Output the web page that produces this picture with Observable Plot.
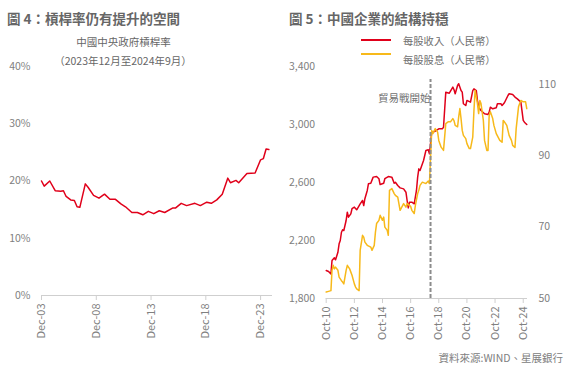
<!DOCTYPE html>
<html>
<head>
<meta charset="utf-8">
<script src="https://cdn.jsdelivr.net/npm/d3@7"></script>
<script src="https://cdn.jsdelivr.net/npm/@observablehq/plot@0.6"></script>
<style>
  html, body { margin: 0; padding: 0; background: #fff; }
  #root { position: relative; width: 580px; height: 374px; overflow: hidden; background: #fff;
          font-family: "Noto Sans CJK TC", "Noto Sans", sans-serif; }
  .abs { position: absolute; white-space: nowrap; }
  .title { font-size: 13.5px; font-weight: bold; color: #666; line-height: 16px; }
  .sub { font-size: 10.5px; color: #666; line-height: 14px; text-align: center; width: 220px; }
  .leg { font-size: 10.3px; color: #707070; line-height: 14px; }
  .sw { height: 2px; width: 30px; }
  .src { font-size: 10.5px; color: #808080; line-height: 14px; text-align: right; }
</style>
</head>
<body>
<div id="root">
  <div class="abs title" style="left:7px;top:10px">圖 4：槓桿率仍有提升的空間</div>
  <div class="abs title" style="left:289px;top:10px">圖 5：中國企業的結構持穩</div>
  <div class="abs sub" style="left:13.5px;top:34.5px">中國中央政府槓桿率</div>
  <div class="abs sub" style="left:13px;top:54px">（2023年12月至2024年9月）</div>
  <div class="abs sw" style="left:361px;top:39px;background:#e0001a"></div>
  <div class="abs sw" style="left:361px;top:52.5px;background:#f7b91a"></div>
  <div class="abs leg" style="left:403px;top:34.3px">每股收入（人民幣）</div>
  <div class="abs leg" style="left:403px;top:53.3px">每股股息（人民幣）</div>
  <div class="abs src" style="right:17px;top:351px">資料來源:WIND、星展銀行</div>
</div>
<script>
// ---- Chart 4: central government leverage (%) ----
const govDates = ["2003-12","2004-03","2004-09","2005-03","2005-09","2005-12","2006-03","2006-08","2006-12","2007-03","2007-06","2007-12","2008-03","2008-09","2009-03","2009-09","2010-03","2010-09","2011-03","2011-08","2012-03","2012-09","2013-03","2013-09","2014-03","2014-09","2015-03","2015-12","2016-03","2016-09","2017-03","2017-12","2018-06","2019-01","2019-06","2019-12","2020-06","2020-12","2021-03","2021-09","2021-12","2022-09","2023-06","2023-12","2024-03","2024-06","2024-09"];
const govLeverage = [20.0,19.1,20.0,18.3,18.2,18.3,17.3,16.7,16.6,15.5,15.4,19.5,18.9,17.5,17.0,17.7,16.8,16.8,16.0,15.5,14.5,14.5,14.1,14.7,14.3,14.8,14.5,15.3,15.3,16.1,15.7,16.1,15.7,16.3,16.1,16.7,17.7,20.5,19.7,20.1,19.7,21.3,21.4,23.7,23.9,25.6,25.5];
const govYTicks = [0, 10, 20, 30, 40];
const govXTicks = ["2003-12","2008-12","2013-12","2018-12","2023-12"];

// ---- Chart 5: revenue per share (left axis) and dividend per share (right axis) ----
const revDates = ["2010-10","2010-12","2011-02","2011-03","2011-05","2011-06","2011-08","2011-09","2011-10","2011-11","2011-12","2012-01","2012-03","2012-04","2012-05","2012-07","2012-08","2012-10","2012-12","2013-03","2013-05","2013-06","2013-07","2013-09","2013-10","2013-12","2014-02","2014-05","2014-07","2014-08","2014-11","2014-12","2015-03","2015-06","2015-08","2015-09","2015-11","2016-01","2016-04","2016-06","2016-07","2016-08","2016-09","2016-11","2017-01","2017-03","2017-04","2017-05","2017-06","2017-09","2017-11","2018-01","2018-02","2018-04","2018-07","2018-10","2019-01","2019-02","2019-04","2019-07","2019-10","2019-11","2019-12","2020-02","2020-03","2020-05","2020-06","2020-07","2020-09","2020-10","2021-01","2021-03","2021-04","2021-06","2021-07","2021-08","2021-10","2022-01","2022-04","2022-05","2022-06","2022-08","2022-11","2022-12","2023-03","2023-04","2023-06","2023-09","2023-10","2024-01","2024-03","2024-05","2024-08","2024-10","2024-11","2025-01"];
const revValues = [1993,1986,1970,2062,2081,2067,2119,2177,2200,2257,2274,2269,2338,2395,2361,2384,2419,2430,2412,2453,2476,2441,2488,2545,2591,2595,2637,2641,2626,2586,2595,2626,2641,2637,2595,2602,2579,2563,2556,2533,2476,2425,2464,2464,2453,2545,2637,2694,2683,2752,2821,2826,2798,2947,2954,2970,2970,2981,3223,3216,3258,3240,3212,3269,3281,3234,3223,3143,3131,3166,3154,3234,3246,3234,3166,3119,3097,3074,3069,3085,3119,3108,3115,3143,3143,3131,3150,3200,3212,3207,3189,3177,3154,3028,3016,3000];

const divDates = ["2010-10","2010-12","2011-02","2011-03","2011-04","2011-05","2011-06","2011-08","2011-09","2011-11","2011-12","2012-01","2012-03","2012-04","2012-06","2012-08","2012-10","2012-11","2012-12","2013-02","2013-03","2013-05","2013-06","2013-07","2013-09","2013-12","2014-01","2014-03","2014-04","2014-05","2014-07","2014-08","2014-10","2014-11","2014-12","2015-02","2015-03","2015-04","2015-06","2015-08","2015-09","2015-11","2015-12","2016-01","2016-04","2016-06","2016-07","2016-10","2016-11","2017-01","2017-02","2017-04","2017-05","2017-06","2017-08","2017-11","2018-01","2018-02","2018-04","2018-05","2018-07","2018-09","2018-10","2018-12","2019-02","2019-04","2019-06","2019-08","2019-10","2019-11","2019-12","2020-02","2020-03","2020-04","2020-05","2020-06","2020-07","2020-09","2020-10","2020-12","2021-01","2021-03","2021-04","2021-05","2021-06","2021-07","2021-08","2021-09","2021-10","2021-12","2022-01","2022-03","2022-04","2022-05","2022-06","2022-08","2022-09","2022-11","2023-02","2023-04","2023-05","2023-06","2023-08","2023-09","2023-10","2023-12","2024-01","2024-03","2024-04","2024-06","2024-07","2024-08","2024-10","2024-12","2025-01"];
const divValues = [51.8,52.0,52.2,57.9,59.3,58.3,58.8,57.9,56.0,55.0,54.6,54.1,57.9,59.3,58.3,56.5,54.1,53.2,52.7,52.2,63.5,67.7,67.2,65.8,64.9,64.4,63.5,64.9,68.6,71.0,71.9,73.3,71.9,72.8,70.0,69.1,67.7,80.3,80.8,79.4,78.9,78.4,76.6,74.7,76.6,75.6,76.6,75.8,74.7,73.8,76.1,79.4,80.3,81.7,82.6,82.2,82.9,82.2,97.1,96.2,97.6,96.6,94.3,92.4,91.5,99.0,99.5,99.5,100.4,99.8,98.5,98.1,100.9,103.2,100.4,97.1,95.7,94.8,93.4,92.0,92.0,95.2,102.7,108.3,106.5,104.6,101.8,105.5,104.6,99.9,94.3,91.5,91.5,101.3,102.3,100.4,98.5,96.2,94.3,93.8,99.9,99.5,98.5,97.1,95.7,94.3,92.9,92.3,97.6,103.7,104.6,105.5,105.1,105.1,103.2];

const leftTicks5 = [1800, 2200, 2600, 3000, 3400];
const rightTicks5 = [50, 70, 90, 110];
const xTicks5 = ["2010-10","2012-10","2014-10","2016-10","2018-10","2020-10","2022-10","2024-10"];
const tradeWarDate = "2018-03";
const tradeWarLabel = "貿易戰開始";

// ---- helpers ----
const parse = d3.utcParse("%Y-%m");
const fmtX = d3.utcFormat("%b-%y");
const RED = "#e0001a", YELLOW = "#f7b91a", AXIS = "#cfcfcf", TXT = "#808080";
const FONT = "'Noto Sans CJK TC', 'Noto Sans', sans-serif";

const govData = govDates.map((d, i) => ({date: parse(d), v: govLeverage[i]}));
const revData = revDates.map((d, i) => ({date: parse(d), v: revValues[i]}));
const divData = divDates.map((d, i) => ({date: parse(d), v: divValues[i]}));

// right axis (50–115) mapped onto left axis (1800–3400)
const R0 = 50, R1 = 115, L0 = 1800, L1 = 3400;
const toLeft = v => L0 + (v - R0) * (L1 - L0) / (R1 - R0);
const fromLeft = v => R0 + (v - L0) * (R1 - R0) / (L1 - L0);

const root = document.getElementById("root");
function place(svg, left) {
  svg.style.position = "absolute";
  svg.style.left = left + "px";
  svg.style.top = "0px";
  svg.style.overflow = "visible";
  root.appendChild(svg);
}

const chart4 = Plot.plot({
  width: 290, height: 374,
  marginTop: 66, marginBottom: 79, marginLeft: 41, marginRight: 18,
  style: {fontFamily: FONT, fontSize: "10.5px", color: TXT, background: "transparent", overflow: "visible"},
  x: {type: "utc", domain: [parse("2003-12"), parse("2025-01")]},
  y: {domain: [0, 40]},
  marks: [
    Plot.ruleY([0], {stroke: AXIS, strokeWidth: 1}),
    Plot.axisX({ticks: govXTicks.map(parse), tickFormat: fmtX, tickRotate: -90, tickSize: 5, tickPadding: 3,
                stroke: AXIS, fill: TXT, fontSize: 11, label: null}),
    Plot.axisY({ticks: govYTicks, tickFormat: d => d + "%", tickSize: 0, tickPadding: 11, fill: TXT, label: null}),
    Plot.lineY(govData, {x: "date", y: "v", stroke: RED, strokeWidth: 1.5})
  ]
});
place(chart4, 0);

const chart5 = Plot.plot({
  width: 290, height: 374,
  marginTop: 66, marginBottom: 76, marginLeft: 35.7, marginRight: 53,
  style: {fontFamily: FONT, fontSize: "10.5px", color: TXT, background: "transparent", overflow: "visible"},
  x: {type: "utc", domain: [parse("2010-10"), new Date(Date.UTC(2025, 0, 20))]},
  y: {domain: [L0, L1]},
  marks: [
    Plot.ruleY([L0], {stroke: AXIS, strokeWidth: 1}),
    Plot.axisX({ticks: xTicks5.map(parse), tickFormat: fmtX, tickRotate: -90, tickSize: 5, tickPadding: 3,
                stroke: AXIS, fill: TXT, fontSize: 11, label: null}),
    Plot.axisY({anchor: "left", ticks: leftTicks5, tickFormat: d3.format(","), tickSize: 0, tickPadding: 11, fill: TXT, label: null}),
    Plot.axisY({anchor: "right", ticks: rightTicks5.map(toLeft), tickFormat: v => String(Math.round(fromLeft(v))),
                tickSize: 0, tickPadding: 11, fill: TXT, label: null}),
    Plot.lineY(revData, {x: "date", y: "v", stroke: RED, strokeWidth: 1.5}),
    Plot.lineY(divData, {x: "date", y: d => toLeft(d.v), stroke: YELLOW, strokeWidth: 1.5}),
    Plot.ruleX([parse(tradeWarDate)], {y1: L0, y2: 3310, stroke: "#8c8c8c", strokeWidth: 2, strokeDasharray: "4,2"}),
    Plot.text([tradeWarLabel], {x: () => parse(tradeWarDate), y: () => 3179, text: d => d, textAnchor: "end", dx: 0,
                fill: "#707070", fontSize: 10.5})
  ]
});
place(chart5, 290);
</script>
</body>
</html>
